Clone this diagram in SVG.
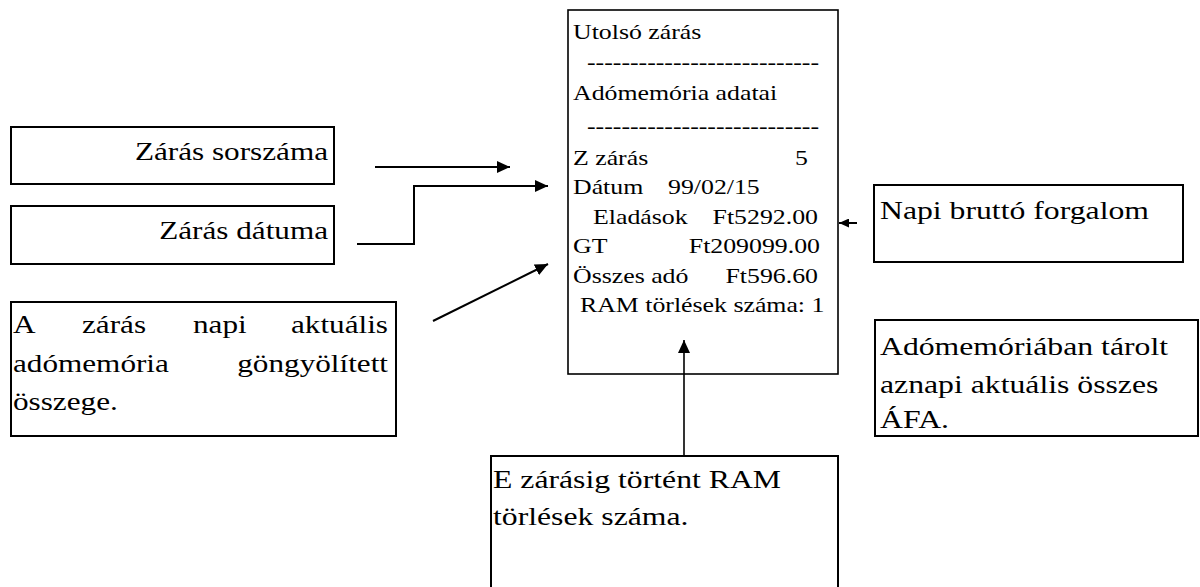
<svg xmlns="http://www.w3.org/2000/svg" width="1200" height="587" viewBox="0 0 1200 587" font-family="'Liberation Serif', 'Times New Roman', serif">
<style>
  .box { fill: #fff; stroke: #000; stroke-width: 2; }
  .rc { fill: #fff; stroke: #000; stroke-width: 1.6; }
  text { font-family: 'Liberation Serif', 'Times New Roman', serif; fill: #000; }
  .s { font-size: 20.5px; }
  .b { font-size: 26px; }
  .e { text-anchor: end; }
  .conn { fill: none; stroke: #000; stroke-width: 2; }
  .thin { stroke-width: 1.6; }
</style>
<defs>
  <marker id="ah" markerUnits="userSpaceOnUse" markerWidth="14" markerHeight="12" refX="13" refY="6" orient="auto">
    <path d="M0,0 L13,6 L0,12 z" fill="#000"/>
  </marker>
  <marker id="ahs" markerUnits="userSpaceOnUse" markerWidth="11" markerHeight="9" refX="10" refY="4.5" orient="auto">
    <path d="M0,0 L10,4.5 L0,9 z" fill="#000"/>
  </marker>
</defs>

<g id="receipt">
  <rect class="rc" x="568" y="10" width="270" height="364"/>
  <text class="s" transform="translate(573 39) scale(1.26 1)">Utolsó zárás</text>
  <text class="s" transform="translate(587 69) scale(1.26 1)">---------------------------</text>
  <text class="s" transform="translate(573 100) scale(1.26 1)">Adómemória adatai</text>
  <text class="s" transform="translate(587 133) scale(1.26 1)">---------------------------</text>
  <text class="s" transform="translate(573 165) scale(1.26 1)">Z zárás</text>
  <text class="s e" transform="translate(808 165) scale(1.26 1)">5</text>
  <text class="s" transform="translate(573 194) scale(1.26 1)">Dátum</text>
  <text class="s" transform="translate(668 194) scale(1.26 1)">99/02/15</text>
  <text class="s" transform="translate(593 224) scale(1.26 1)">Eladások</text>
  <text class="s e" transform="translate(818 224) scale(1.26 1)">Ft5292.00</text>
  <text class="s" transform="translate(573 253) scale(1.26 1)">GT</text>
  <text class="s e" transform="translate(820 253) scale(1.26 1)">Ft209099.00</text>
  <text class="s" transform="translate(573 283) scale(1.26 1)">Összes adó</text>
  <text class="s e" transform="translate(818 283) scale(1.26 1)">Ft596.60</text>
  <text class="s" transform="translate(580 312) scale(1.26 1)">RAM törlések száma: 1</text>
</g>

<g id="sorszam">
  <rect class="box" x="11" y="127" width="323" height="57"/>
  <text class="b e" transform="translate(328 160) scale(1.2 1)">Zárás sorszáma</text>
</g>

<g id="datum">
  <rect class="box" x="11" y="206" width="323" height="58"/>
  <text class="b e" transform="translate(328 239) scale(1.2 1)">Zárás dátuma</text>
</g>

<g id="gongyolitett">
  <rect class="box" x="11" y="302" width="385" height="134"/>
  <text class="b" transform="translate(13 333) scale(1.2 1)">A</text>
  <text class="b" transform="translate(82 333) scale(1.2 1)">zárás</text>
  <text class="b" transform="translate(193 333) scale(1.2 1)">napi</text>
  <text class="b e" transform="translate(388 333) scale(1.2 1)">aktuális</text>
  <text class="b" transform="translate(13 372) scale(1.2 1)">adómemória</text>
  <text class="b e" transform="translate(388 372) scale(1.2 1)">göngyölített</text>
  <text class="b" transform="translate(13 410) scale(1.2 1)">összege.</text>
</g>

<g id="brutto">
  <rect class="box" x="874" y="185" width="309" height="77"/>
  <text class="b" transform="translate(880 219) scale(1.22 1)">Napi bruttó forgalom</text>
</g>

<g id="afa">
  <rect class="box" x="875" y="320" width="323" height="116"/>
  <text class="b" transform="translate(880 355) scale(1.22 1)">Adómemóriában tárolt</text>
  <text class="b" transform="translate(880 393) scale(1.22 1)">aznapi aktuális összes</text>
  <text class="b" transform="translate(880 428) scale(1.22 1)">ÁFA.</text>
</g>

<g id="ramtorles">
  <rect class="box" x="491" y="456" width="347" height="160"/>
  <text class="b" transform="translate(493 488) scale(1.22 1)">E zárásig történt RAM</text>
  <text class="b" transform="translate(493 525) scale(1.22 1)">törlések száma.</text>
</g>

<g id="connectors">
  <line class="conn" x1="375" y1="167" x2="510" y2="167" marker-end="url(#ah)"/>
  <polyline class="conn" points="357,244 414,244 414,186 548,186" marker-end="url(#ah)"/>
  <line class="conn" x1="433" y1="321" x2="548" y2="264" marker-end="url(#ah)"/>
  <line class="conn" x1="857" y1="223" x2="839" y2="223" marker-end="url(#ahs)"/>
  <line class="conn thin" x1="684" y1="456" x2="684" y2="340" marker-end="url(#ah)"/>
</g>
</svg>
